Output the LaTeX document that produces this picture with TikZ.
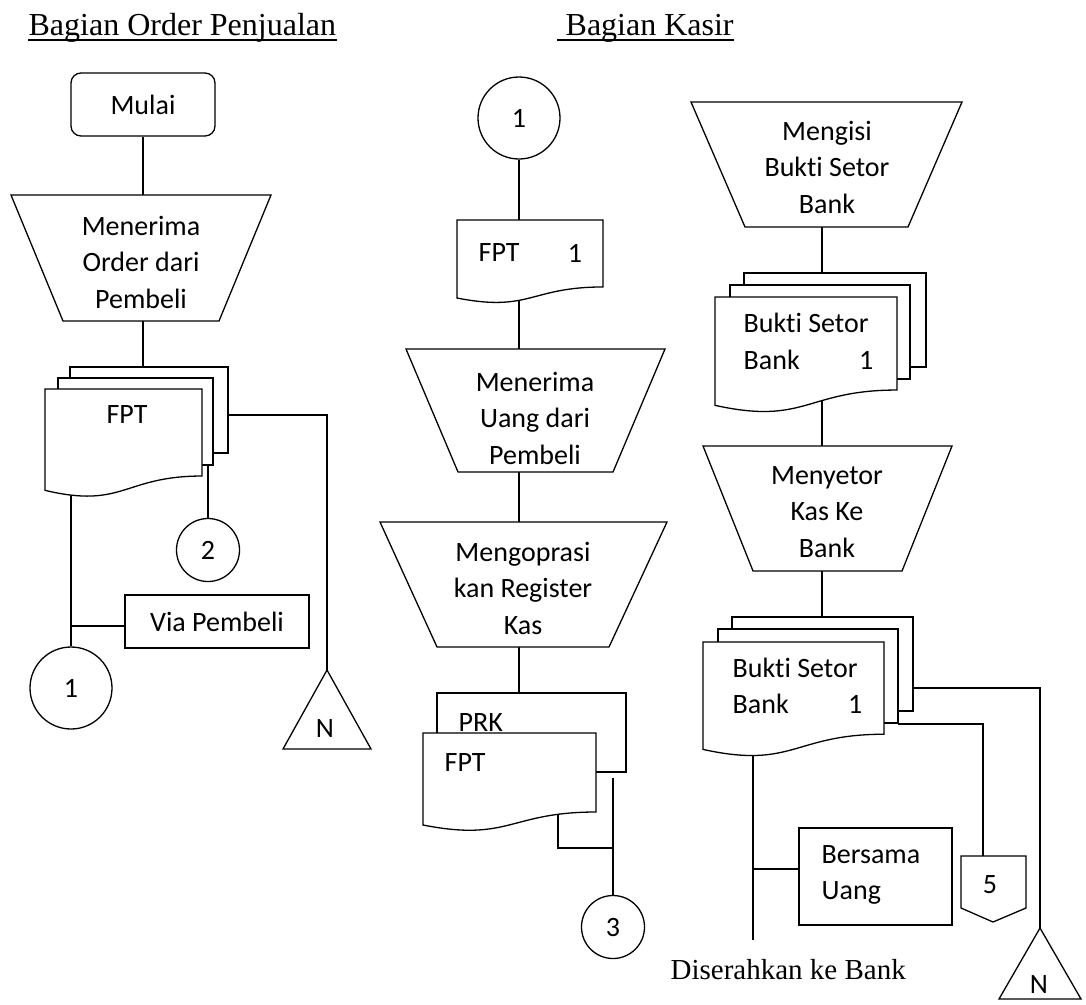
\documentclass[tikz,border=0pt]{standalone}
\usepackage{fontspec}
\setmainfont{Carlito}[Ligatures=NoCommon]
\newfontfamily\tnr{Liberation Serif}
\newcommand{\docshape}[4]{%
  \draw[shp] (#1,#2) -- ({#1+#3},#2) -- ({#1+#3},{#2+0.802*#4})
    .. controls ({#1+0.5*#3},{#2+0.802*#4}) and ({#1+0.5*#3},{#2+1.107*#4}) .. (#1,{#2+0.934*#4}) -- cycle;}
\newcommand{\trapshape}[6]{%
  \draw[shp] (#2,#1) -- (#3,#1) -- (#6,#4) -- (#5,#4) -- cycle;}
\begin{document}
\begin{tikzpicture}[x=1pt,y=-1pt, line width=1.3pt, line join=miter,
  every node/.style={font=\fontsize{28}{36.5}\selectfont, inner sep=0pt},
  shp/.style={draw, fill=white, line width=1.3pt},
  circ/.style={draw, circle, fill=white, line width=1.3pt, inner sep=0pt},
  boxnode/.style={draw, fill=white, line width=1.3pt, inner sep=0pt},
  ttl/.style={font=\tnr\fontsize{32}{36}\selectfont, anchor=base west, inner sep=0pt}]

\useasboundingbox (0,0) rectangle (1086,1004);

% ---------- titles ----------
\node[ttl] (title1) at (28,35) {Bagian Order Penjualan};
\draw[line width=1.7pt] ([yshift=-5pt]title1.base west) -- ([yshift=-5pt]title1.base east);
\node[ttl] (title2) at (557,35) {\ Bagian Kasir};
\draw[line width=1.7pt] ([yshift=-5pt]title2.base west) -- ([yshift=-5pt]title2.base east);

% ---------- simple nodes ----------
\node[boxnode, rounded corners=10pt, minimum width=144pt, minimum height=63pt] (mulai) at (143,104.5) {Mulai};
\node[circ, minimum size=82pt] (cA) at (71,688) {1};
\node[circ, minimum size=63pt] (c2) at (208,550) {2};
\node[circ, minimum size=82pt] (cB) at (519,118) {1};
\node[circ, minimum size=63pt] (c3) at (613,927) {3};
\node[boxnode, minimum width=184pt, minimum height=53pt] (via) at (217,621.5) {Via Pembeli};
\node[boxnode, minimum width=153pt, minimum height=97pt] (bu) at (875.5,876.5) {};
\node[anchor=west, align=left] (butext) at (821,875) {Bersama\\Uang};

% triangles (off-page N) and off-page connector 5
\coordinate (nA) at (327,670);
\draw[shp] (nA) -- (371,749) -- (283,749) -- cycle;
\node (nAt) at (325,729) {N};
\coordinate (nB) at (1040,928);
\draw[shp] (nB) -- (1081,999) -- (999,999) -- cycle;
\node (nBt) at (1039,985) {N};
\coordinate (op) at (983,856);
\draw[shp] (961,856) -- (1026,856) -- (1026,908) -- (993,922) -- (961,908) -- cycle;
\node (opt) at (990,885) {5};

\node[font=\tnr\fontsize{29}{32}\selectfont, anchor=base west] (dis) at (670,979) {Diserahkan ke Bank};

% ---------- connection points ----------
\coordinate (tr1t) at (143,195);
\coordinate (tr1b) at (143,321);
\coordinate (dLtop) at (143,367);
\coordinate (dLr) at (228,415);
\coordinate (dLm) at (208,465);
\coordinate (dLw) at (71,470);
\coordinate (jA) at (71,626);

\coordinate (d1top) at (519,220);
\coordinate (d1in) at (519,280);
\coordinate (tr2t) at (519,349);
\coordinate (tr2b) at (519,472);
\coordinate (tr3t) at (519,522);
\coordinate (tr3b) at (519,647);
\coordinate (prkT) at (519,693);
\coordinate (d3in) at (558,800);
\coordinate (j3) at (613,848);
\coordinate (v3) at (613,778);

\coordinate (tr4b) at (822,227);
\coordinate (dR1top) at (822,273);
\coordinate (dR1in) at (822,380);
\coordinate (tr5t) at (822,446);
\coordinate (tr5b) at (822,571);
\coordinate (dR2top) at (822,617);
\coordinate (dR2r) at (913,688);
\coordinate (dR2m) at (898,724);
\coordinate (dR2in) at (753,730);
\coordinate (bankend) at (753,940);
\coordinate (jB) at (753,869);

% ---------- connectors ----------
\draw (mulai.south) -- (tr1t);
\draw (tr1b) -- (dLtop);
\draw (dLr) -| (nA);
\draw (dLm) -- (c2.north);
\draw (dLw) -- (cA.north);
\draw (jA) -- (jA -| via.west);

\draw (cB.south) -- (d1top);
\draw (d1in) -- (tr2t);
\draw (tr2b) -- (tr3t);
\draw (tr3b) -- (prkT);
\draw (d3in) |- (j3);
\draw (v3) -- (c3.north);

\draw (tr4b) -- (dR1top);
\draw (dR1in) -- (tr5t);
\draw (tr5b) -- (dR2top);
\draw (dR2r) -| (nB);
\draw (dR2m) -| (op);
\draw (dR2in) -- (bankend);
\draw (jB) -- (jB -| bu.west);

% ---------- left column shapes ----------
\trapshape{195}{11}{271}{321}{63}{219}
\node[align=center] (tr1x) at (141,262) {Menerima\\Order dari\\Pembeli};

\draw[shp] (70,367) rectangle (228,453);
\draw[shp] (58,378) rectangle (213,465);
\docshape{45}{389}{157}{108.5}
\node (dLx) at (127,415) {FPT};

% ---------- middle column shapes ----------
\docshape{457}{220}{146}{83.5}
\node[anchor=west] (d1x) at (478,253) {FPT};
\node (d1n) at (575,253) {1};

\trapshape{349}{406}{665}{472}{458}{613}
\node[align=center] (tr2x) at (535,418) {Menerima\\Uang dari\\Pembeli};

\trapshape{522}{380}{667}{647}{437}{609}
\node[align=center] (tr3x) at (523,588) {Mengoprasi\\kan Register\\Kas};

\draw[shp] (437,693) rectangle (626,772);
\node[anchor=base west] (prkx) at (458,731) {PRK};
\docshape{423}{733}{173}{98.5}
\node[anchor=west] (d3x) at (444,763) {FPT};

% ---------- right column shapes ----------
\trapshape{102}{691}{962}{227}{745}{908}
\node[align=center] (tr4x) at (827,167) {Mengisi\\Bukti Setor\\Bank};

\draw[shp] (744,273) rectangle (926,367);
\draw[shp] (730,285) rectangle (910,379);
\docshape{715}{297}{182}{116}
\node[anchor=west] (dR1a) at (743,323) {Bukti Setor};
\node[anchor=west] (dR1b) at (743,360) {Bank};
\node[anchor=east] (dR1n) at (874,360) {1};

\trapshape{446}{703}{952}{571}{753}{902}
\node[align=center] (tr5x) at (827,512) {Menyetor\\Kas Ke\\Bank};

\draw[shp] (732,617) rectangle (913,711);
\draw[shp] (718,629) rectangle (898,723);
\docshape{703}{642}{181}{115}
\node[anchor=west] (dR2a) at (732,668) {Bukti Setor};
\node[anchor=west] (dR2b) at (732,704) {Bank};
\node[anchor=east] (dR2n) at (863,704) {1};

\end{tikzpicture}
\end{document}
